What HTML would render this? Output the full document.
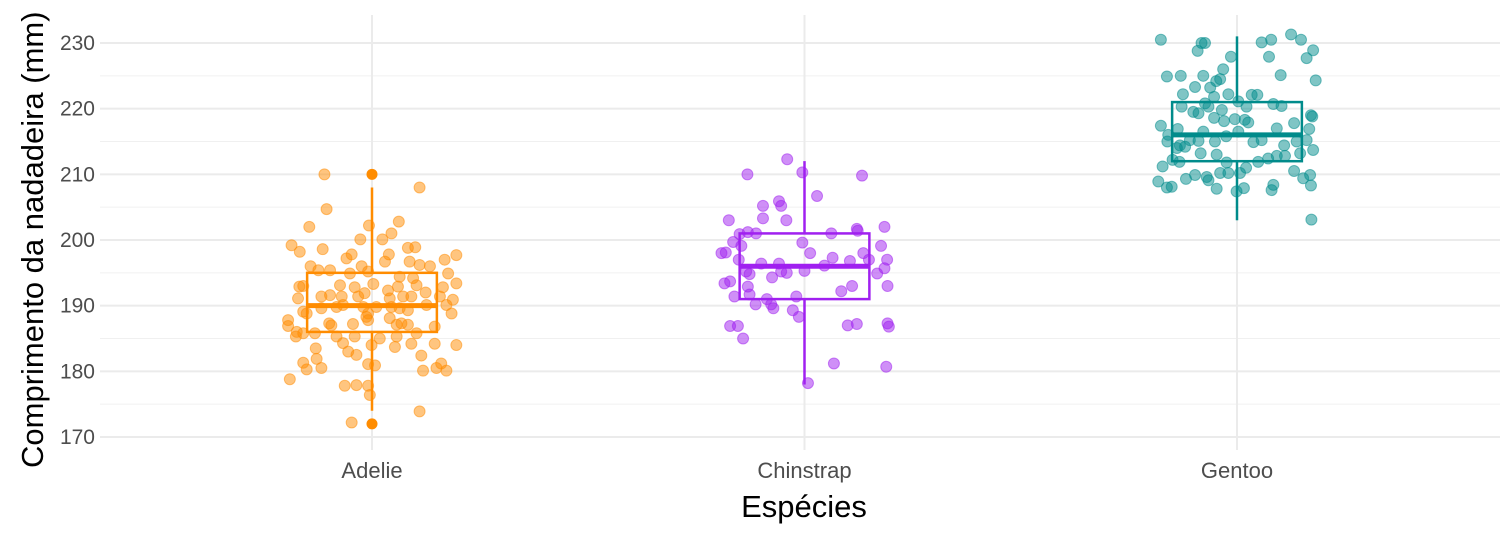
<!DOCTYPE html>
<html><head><meta charset="utf-8"><style>
html,body{margin:0;padding:0;background:#fff;}
svg{display:block;font-family:"Liberation Sans",Arial,sans-serif;}
</style></head><body>
<svg id="chart" width="1512" height="540" viewBox="0 0 1512 540" xmlns="http://www.w3.org/2000/svg">
<g id="grid"></g>
<g id="marks"></g>
<g id="axes"></g>
<text transform="translate(43,468) rotate(-90)" font-size="31" fill="#000">Comprimento da nadadeira (mm)</text>
<text x="804" y="517" font-size="31" fill="#000" text-anchor="middle">Espécies</text>
</svg>
<script>
const categories = ["Adelie","Chinstrap","Gentoo"];
const colors = ["#FF8C00","#A020F0","#008B8B"];
const yTicks = [170,180,190,200,210,220,230];
const yMinor = [175,185,195,205,215,225];
// box stats: [whiskerLow, q1, median, q3, whiskerHigh]
const boxAdelie = [174,186,190,195,208];
const boxChinstrap = [178,191,196,201,212];
const boxGentoo = [203,212,216,221,231];
const outliersAdelie = [172,210];
const adelieJitter = [-0.11,0.11,-0.105,-0.145,-0.007,0.062,-0.027,0.024,0.045,-0.186,-0.167,-0.114,-0.059,-0.047,0.039,0.030,0.083,0.100,0.195,0.168,0.087,0.110,0.134,-0.142,-0.124,-0.097,-0.051,-0.024,-0.009,0.176,-0.168,-0.159,-0.074,-0.040,0.003,0.064,0.095,0.103,0.195,0.164,-0.171,-0.117,-0.097,-0.070,-0.032,-0.017,0.037,0.041,0.060,0.072,0.091,0.124,0.157,0.187,-0.159,-0.151,-0.117,-0.082,-0.067,-0.020,-0.009,0.010,0.045,0.064,0.083,0.126,0.172,0.184,-0.194,-0.194,-0.174,-0.176,-0.159,-0.132,-0.099,-0.094,-0.082,-0.044,-0.040,-0.013,-0.009,0.041,0.057,0.068,0.083,0.103,0.145,0.057,0.018,-0.001,-0.067,-0.055,-0.036,-0.130,-0.128,-0.159,-0.151,-0.117,-0.009,0.007,0.053,0.091,0.145,0.195,0.114,0.118,0.149,0.160,0.172,-0.190,-0.063,-0.036,-0.009,-0.005,0.110,-0.047];
const adelieValues = [210,208,204.7,202,202.2,202.8,200.1,200.1,201,199.2,198.2,198.6,197.2,197.8,197.8,196.7,198.8,198.9,197.7,197,196.7,196.2,196,196,195.4,195.4,194.9,196,195.2,194.9,192.9,193,193.1,192.8,193.3,194.4,194.2,193.1,193.4,192.8,191.1,191.4,191.6,191.4,191.4,191.9,192.3,191.1,192.9,191.4,191.4,192,191.4,190.9,189.1,188.8,189.6,189.8,190.1,189.8,188.8,189.8,189.8,189.6,189.3,190.1,190.1,188.8,187.8,186.9,186,185.3,185.8,185.8,187.3,187,185.3,187.2,185.3,188.3,187.8,188.1,187.1,187.3,187.1,185.8,186.8,185.3,185,184,184.3,183,182.5,183.5,181.9,181.3,180.3,180.5,181.1,180.9,183.7,184.2,184.2,184,182.4,180.1,180.5,181.2,180.1,178.8,177.8,177.9,177.8,176.4,173.9,172.2];
const chinstrapJitter = [-0.040,-0.132,-0.005,0.133,0.029,-0.096,-0.059,-0.054,-0.096,-0.042,-0.175,0.185,0.121,0.123,0.062,-0.165,-0.150,-0.131,-0.112,-0.146,0.177,-0.005,0.013,0.136,-0.192,-0.182,-0.152,-0.100,-0.059,0.065,0.046,0.105,0.149,0.191,0.185,0.168,-0.127,-0.135,-0.054,-0.041,0.000,-0.075,-0.185,-0.172,-0.131,-0.127,-0.162,-0.019,0.085,0.110,0.192,-0.113,-0.087,-0.077,-0.072,-0.027,-0.013,-0.172,-0.154,0.100,0.121,0.192,0.195,-0.142,0.068,0.189,0.008];
const chinstrapValues = [212.3,210,210.3,209.8,206.7,205.2,205.9,205.2,203.3,203,203,202,201.7,201.4,201,199.7,200.9,201.2,201,199.1,199.1,199.6,198,198,198,198.1,197,196.4,196.4,197.3,196.1,196.8,197,197,195.7,194.9,194.8,195.2,195.2,195,195.3,194.3,193.4,193.7,192.9,191.7,191.4,191.4,192.2,193,193,190.2,191,190.2,189.6,189.3,188.3,186.9,186.9,187,187.2,187.3,186.8,185,181.2,180.7,178.2];
const gentooJitter = [-0.176,-0.082,-0.074,-0.091,0.057,0.079,0.125,0.148,0.176,0.161,0.074,-0.014,-0.162,-0.130,-0.078,-0.032,-0.039,-0.048,0.101,0.182,-0.097,-0.125,-0.062,-0.020,0.034,0.047,-0.053,-0.074,-0.128,-0.101,-0.089,-0.066,-0.035,0.003,0.022,0.084,0.103,0.171,0.174,-0.176,-0.159,-0.137,-0.161,-0.132,-0.109,-0.089,-0.078,-0.051,-0.025,0.003,-0.053,-0.030,-0.005,0.018,0.026,0.092,0.132,0.167,0.138,0.161,0.038,0.057,0.109,0.176,-0.139,-0.120,-0.084,-0.047,-0.172,-0.149,-0.133,-0.097,-0.070,-0.039,-0.020,0.007,0.021,-0.024,0.049,0.072,0.092,0.111,0.132,0.153,0.169,-0.182,-0.162,-0.151,-0.118,-0.066,-0.047,-0.001,0.016,0.080,0.084,0.171,0.172,0.146];
const gentooValues = [230.5,230,230,228.8,230.1,230.5,231.3,230.5,228.9,227.7,227.9,227.9,224.9,225,225,226,224.5,224.2,225.1,224.3,223.3,222.2,223.2,222.2,222.1,222.1,221.8,220.8,220.3,219.5,219.3,220.3,219.8,221.1,220.3,220.7,220.4,219,218.8,217.4,216,216.9,215,214.4,215.2,215.1,216.5,215,215.8,216.5,218.6,218.1,218.4,218.3,217.9,217,217.8,216.9,215,215.2,214.9,215.2,214.4,213.7,214,214.2,213.2,213,211.2,212.2,211.9,209.9,209.6,210.2,210.2,210.2,211,211.8,211.9,212.4,212.8,212.8,210.5,209.4,209.9,208.9,208,208.1,209.3,209.1,207.8,207.4,207.9,207.6,208.4,208.3,203.1,213.2];

const NS = "http://www.w3.org/2000/svg";
const X0 = 372, XSTEP = 432.5;
const xPos = i => X0 + i * XSTEP;
const yPos = v => 437 - (v - 170) * 6.567;
function mk(tag, attrs, parent){const e=document.createElementNS(NS,tag);for(const k in attrs)e.setAttribute(k,attrs[k]);parent.appendChild(e);return e;}
const grid=document.getElementById('grid'), marks=document.getElementById('marks'), axes=document.getElementById('axes');

yMinor.forEach(v=>{
  const l=mk('line',{x1:100,x2:1500,y1:yPos(v),y2:yPos(v),stroke:'#f0f0f0','stroke-width':1},grid);
  
  
});
yTicks.forEach(v=>{
  const l=mk('line',{x1:100,x2:1500,y1:yPos(v),y2:yPos(v),stroke:'#ebebeb','stroke-width':2},grid);
  
  
  const t=mk('text',{x:95,y:yPos(v)+7,'font-size':21,fill:'#4d4d4d','text-anchor':'end'},axes);
  t.textContent=v;
  
  
});
categories.forEach((c,i)=>{
  const l=mk('line',{x1:xPos(i),x2:xPos(i),y1:15,y2:450,stroke:'#ebebeb','stroke-width':2},grid);
  
  
  const t=mk('text',{x:xPos(i),y:478,'font-size':22,fill:'#4d4d4d','text-anchor':'middle'},axes);
  t.textContent=c;
  
  
});

const boxes=[boxAdelie,boxChinstrap,boxGentoo];
const jit=[adelieJitter,chinstrapJitter,gentooJitter];
const vals=[adelieValues,chinstrapValues,gentooValues];
boxes.forEach((b,i)=>{
  const g=mk('g',{},marks);
  
  
  const cx=xPos(i), hw=0.15*XSTEP, col=colors[i];
  mk('line',{x1:cx,x2:cx,y1:yPos(b[0]),y2:yPos(b[1]),stroke:col,'stroke-width':2.5},g);
  mk('line',{x1:cx,x2:cx,y1:yPos(b[3]),y2:yPos(b[4]),stroke:col,'stroke-width':2.5},g);
  mk('rect',{x:cx-hw,y:yPos(b[3]),width:2*hw,height:yPos(b[1])-yPos(b[3]),fill:'none',stroke:col,'stroke-width':2.5},g);
  mk('line',{x1:cx-hw,x2:cx+hw,y1:yPos(b[2]),y2:yPos(b[2]),stroke:col,'stroke-width':5},g);
});
outliersAdelie.forEach(v=>{
  const c=mk('circle',{cx:xPos(0),cy:yPos(v),r:5.5,fill:colors[0]},marks);
  
  
});
vals.forEach((arr,i)=>{
  const g=mk('g',{},marks);
  
  
  arr.forEach((v,k)=>{
    const c=mk('circle',{cx:xPos(i+jit[i][k]),cy:yPos(v),r:5.5,fill:colors[i],'fill-opacity':0.5,stroke:colors[i],'stroke-opacity':0.5,'stroke-width':1},g);
    
    
  });
});
</script>
</body></html>
